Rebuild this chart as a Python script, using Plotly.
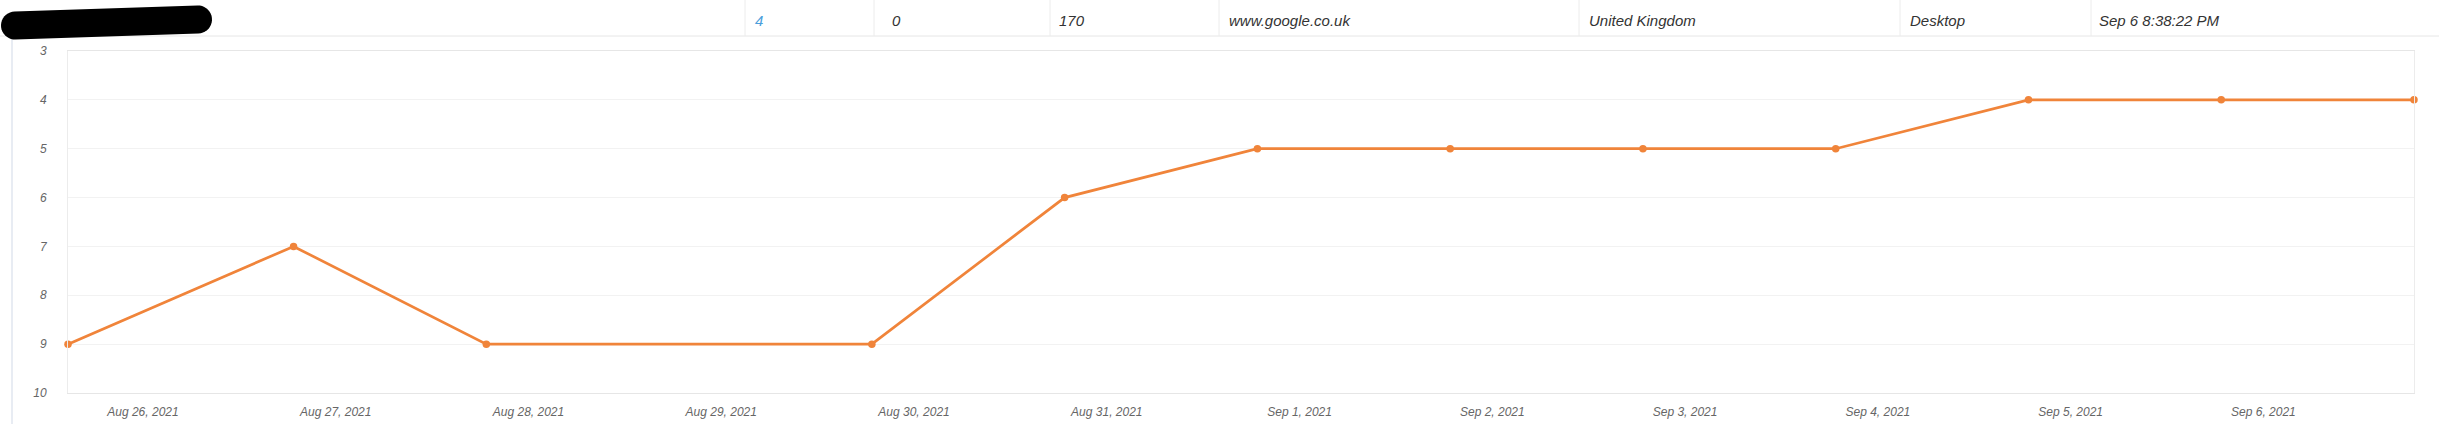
import numpy as np
import pandas as pd
import plotly.graph_objs as go

# rank history (lower is better, axis reversed)
check_times = ["2021-08-25 14:40", "2021-08-26 18:45", "2021-08-27 18:45", "2021-08-29 18:45",
               "2021-08-30 18:45", "2021-08-31 18:45", "2021-09-01 18:45", "2021-09-02 18:45",
               "2021-09-03 18:45", "2021-09-04 18:45", "2021-09-05 18:45", "2021-09-06 18:45"]
positions = [9, 7, 9, 9, 6, 5, 5, 5, 5, 4, 4, 4]

tick_days = pd.date_range("2021-08-26", "2021-09-06", freq="D")
tick_labels = [d.strftime("%b %-d, %Y") for d in tick_days]
rank_ticks = list(range(3, 11))

# header row of the keyword table
header_cells = ["4", "0", "170", "www.google.co.uk", "United Kingdom", "Desktop", "Sep 6 8:38:22 PM"]
header_x = [753, 890, 1057, 1227, 1587, 1908, 2097]
header_sep = [745, 874, 1050, 1219, 1579, 1900, 2091]

W, H = 2439, 424
L, R, T, B = 68, 2414, 51, 393


def px(x):
    return (x - L) / (R - L)


def py(y):
    return (B - y) / (B - T)


fig = go.Figure()
fig.add_trace(
    go.Scatter(
        x=pd.to_datetime(check_times),
        y=positions,
        mode="lines+markers",
        line=dict(color="#f0843a", width=2.7),
        marker=dict(color="#f0843a", size=7.5),
        cliponaxis=False,
        showlegend=False,
    )
)

label_font = dict(family="Liberation Sans, Arial, sans-serif", size=12, color="#666666", style="italic")

fig.update_xaxes(
    range=[pd.to_datetime(check_times[0]), pd.to_datetime(check_times[-1])],
    tickvals=tick_days,
    ticktext=tick_labels,
    tickfont=label_font,
    showgrid=False,
    showline=True,
    linecolor="#e6e6e6",
    linewidth=1,
    mirror=True,
    ticklabelstandoff=8,
    zeroline=False,
    automargin=False,
)
fig.update_yaxes(
    range=[10, 3],
    tickvals=rank_ticks,
    tickfont=label_font,
    showgrid=True,
    gridcolor="#f2f2f2",
    showline=True,
    linecolor="#ececec",
    linewidth=1,
    mirror=True,
    ticklabelstandoff=18,
    zeroline=False,
    automargin=False,
)

shapes = []
# header bottom border
shapes.append(dict(type="line", xref="paper", yref="paper", x0=px(0), x1=px(W), y0=py(36), y1=py(36),
                   line=dict(color="#e6e6e6", width=1)))
# column separators
for s in header_sep:
    shapes.append(dict(type="line", xref="paper", yref="paper", x0=px(s), x1=px(s), y0=py(0), y1=py(36),
                       line=dict(color="#ececec", width=1)))
# left page border
shapes.append(dict(type="line", xref="paper", yref="paper", x0=px(12), x1=px(12), y0=py(37), y1=py(H),
                   line=dict(color="#e8ecf3", width=2)))

# redaction scribble over the keyword name
c1, c2, r = (15, 25.5), (198, 19.5), 14
ang = np.arctan2(c2[1] - c1[1], c2[0] - c1[0])
a1 = np.linspace(ang + np.pi / 2, ang + 3 * np.pi / 2, 20)
a2 = np.linspace(ang - np.pi / 2, ang + np.pi / 2, 20)
pts = [(c1[0] + r * np.cos(a), c1[1] + r * np.sin(a)) for a in a1]
pts += [(c2[0] + r * np.cos(a), c2[1] + r * np.sin(a)) for a in a2]
path = "M " + " L ".join(f"{px(x):.5f},{py(y):.5f}" for x, y in pts) + " Z"
shapes.append(dict(type="path", xref="paper", yref="paper", path=path,
                   fillcolor="#000000", line=dict(width=0)))

annotations = []
for txt, x in zip(header_cells, header_x):
    annotations.append(dict(
        text=txt, x=px(x), y=py(20), xref="paper", yref="paper",
        xanchor="left", yanchor="middle", showarrow=False,
        font=dict(family="Liberation Sans, Arial, sans-serif", size=15,
                  color="#4a9edb" if txt == "4" else "#333333", style="italic"),
    ))

fig.update_layout(
    width=W, height=H,
    margin=dict(l=L, r=W - R, t=T, b=H - B),
    paper_bgcolor="white",
    plot_bgcolor="white",
    shapes=shapes,
    annotations=annotations,
)

# drop the default 8px body margin so the figure sits at the page corner
fig.write_html("out.html", config={"displayModeBar": False},
               post_script="document.body.style.margin='0';")
